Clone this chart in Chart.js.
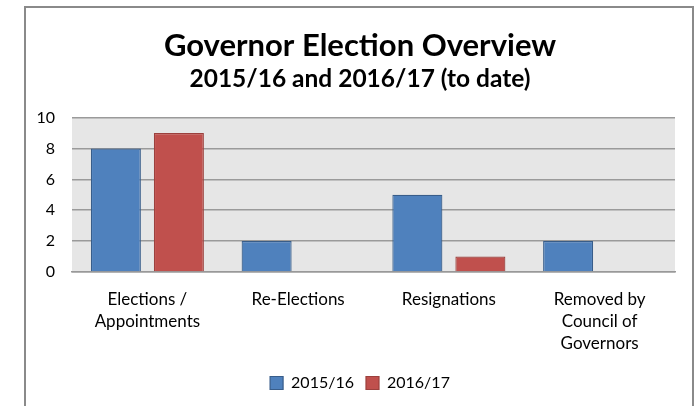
<!DOCTYPE html>
<html>
<head>
<meta charset="utf-8">
<script src="https://cdn.jsdelivr.net/npm/chart.js@4"></script>
<style>
html,body{margin:0;padding:0;background:#fff;}
#wrap{width:695px;height:406px;position:relative;}
</style>
</head>
<body>
<div id="wrap"><canvas id="c" width="695" height="406"></canvas></div>
<script>
const categories = [["Elections /","Appointments"],"Re-Elections","Resignations",["Removed by","Council of","Governors"]];
const series2015 = [8, 2, 5, 2];
const series2016 = [9, 0, 1, 0];
const seriesNames = ["2015/16", "2016/17"];
const yTicks = [0, 2, 4, 6, 8, 10];

const FONT = "Lato, 'Open Sans', sans-serif";

const bgPlugin = {
  id: 'bg',
  beforeDraw(chart) {
    const {ctx, chartArea: a} = chart;
    ctx.save();
    ctx.fillStyle = '#fff';
    ctx.fillRect(0, 0, chart.width, chart.height);
    ctx.strokeStyle = '#8a8a8a';
    ctx.lineWidth = 2;
    ctx.beginPath();
    ctx.moveTo(25, 420);
    ctx.lineTo(25, 7);
    ctx.lineTo(693, 7);
    ctx.lineTo(693, 420);
    ctx.stroke();
    ctx.fillStyle = '#e6e6e6';
    ctx.fillRect(a.left, a.top, a.right - a.left, a.bottom - a.top);
    ctx.restore();
  }
};

new Chart(document.getElementById('c'), {
  type: 'bar',
  data: {
    labels: categories,
    datasets: [
      {label: seriesNames[0], data: series2015, backgroundColor: '#4f81bd', borderColor: '#385d8a', borderWidth: 1.2},
      {label: seriesNames[1], data: series2016, backgroundColor: '#c0504d', borderColor: '#9c403d', borderWidth: 1.2}
    ]
  },
  options: {
    responsive: false,
    animation: false,
    devicePixelRatio: 1,
    layout: {padding: {left: 45, right: 20, top: 0, bottom: 5}},
    datasets: {bar: {categoryPercentage: 0.836, barPercentage: 0.794}},
    plugins: {
      title: {display: true, text: 'Governor Election Overview', color: '#000',
        font: {family: FONT, size: 31, weight: 'bold'}, padding: {top: 27, bottom: 0}},
      subtitle: {display: true, text: '2015/16 and 2016/17 (to date)', color: '#000',
        font: {family: FONT, size: 24.5, weight: 'bold'}, padding: {top: 0, bottom: 24}},
      legend: {position: 'bottom',
        labels: {color: '#000', font: {family: FONT, size: 16}, boxWidth: 13, boxHeight: 13, padding: 12}},
      tooltip: {enabled: false}
    },
    scales: {
      x: {
        afterFit(s) { s.height = 91; s._computeLabelArea = () => undefined; },
        grid: {display: false},
        border: {display: true, color: '#999', width: 1.5},
        ticks: {color: '#000', font: {family: FONT, size: 17, lineHeight: 1.294}, padding: 9, maxRotation: 0, autoSkip: false}
      },
      y: {
        min: 0, max: 10,
        afterFit(s) { s.width = 27; s._computeLabelArea = () => undefined; },
        afterBuildTicks(s) { s.ticks = yTicks.map(v => ({value: v})); },
        grid: {color: '#9a9a9a', lineWidth: 1.5, drawTicks: false},
        border: {display: false},
        ticks: {color: '#000', font: {family: FONT, size: 16}, padding: 17}
      }
    }
  },
  plugins: [bgPlugin]
});
</script>
</body>
</html>
